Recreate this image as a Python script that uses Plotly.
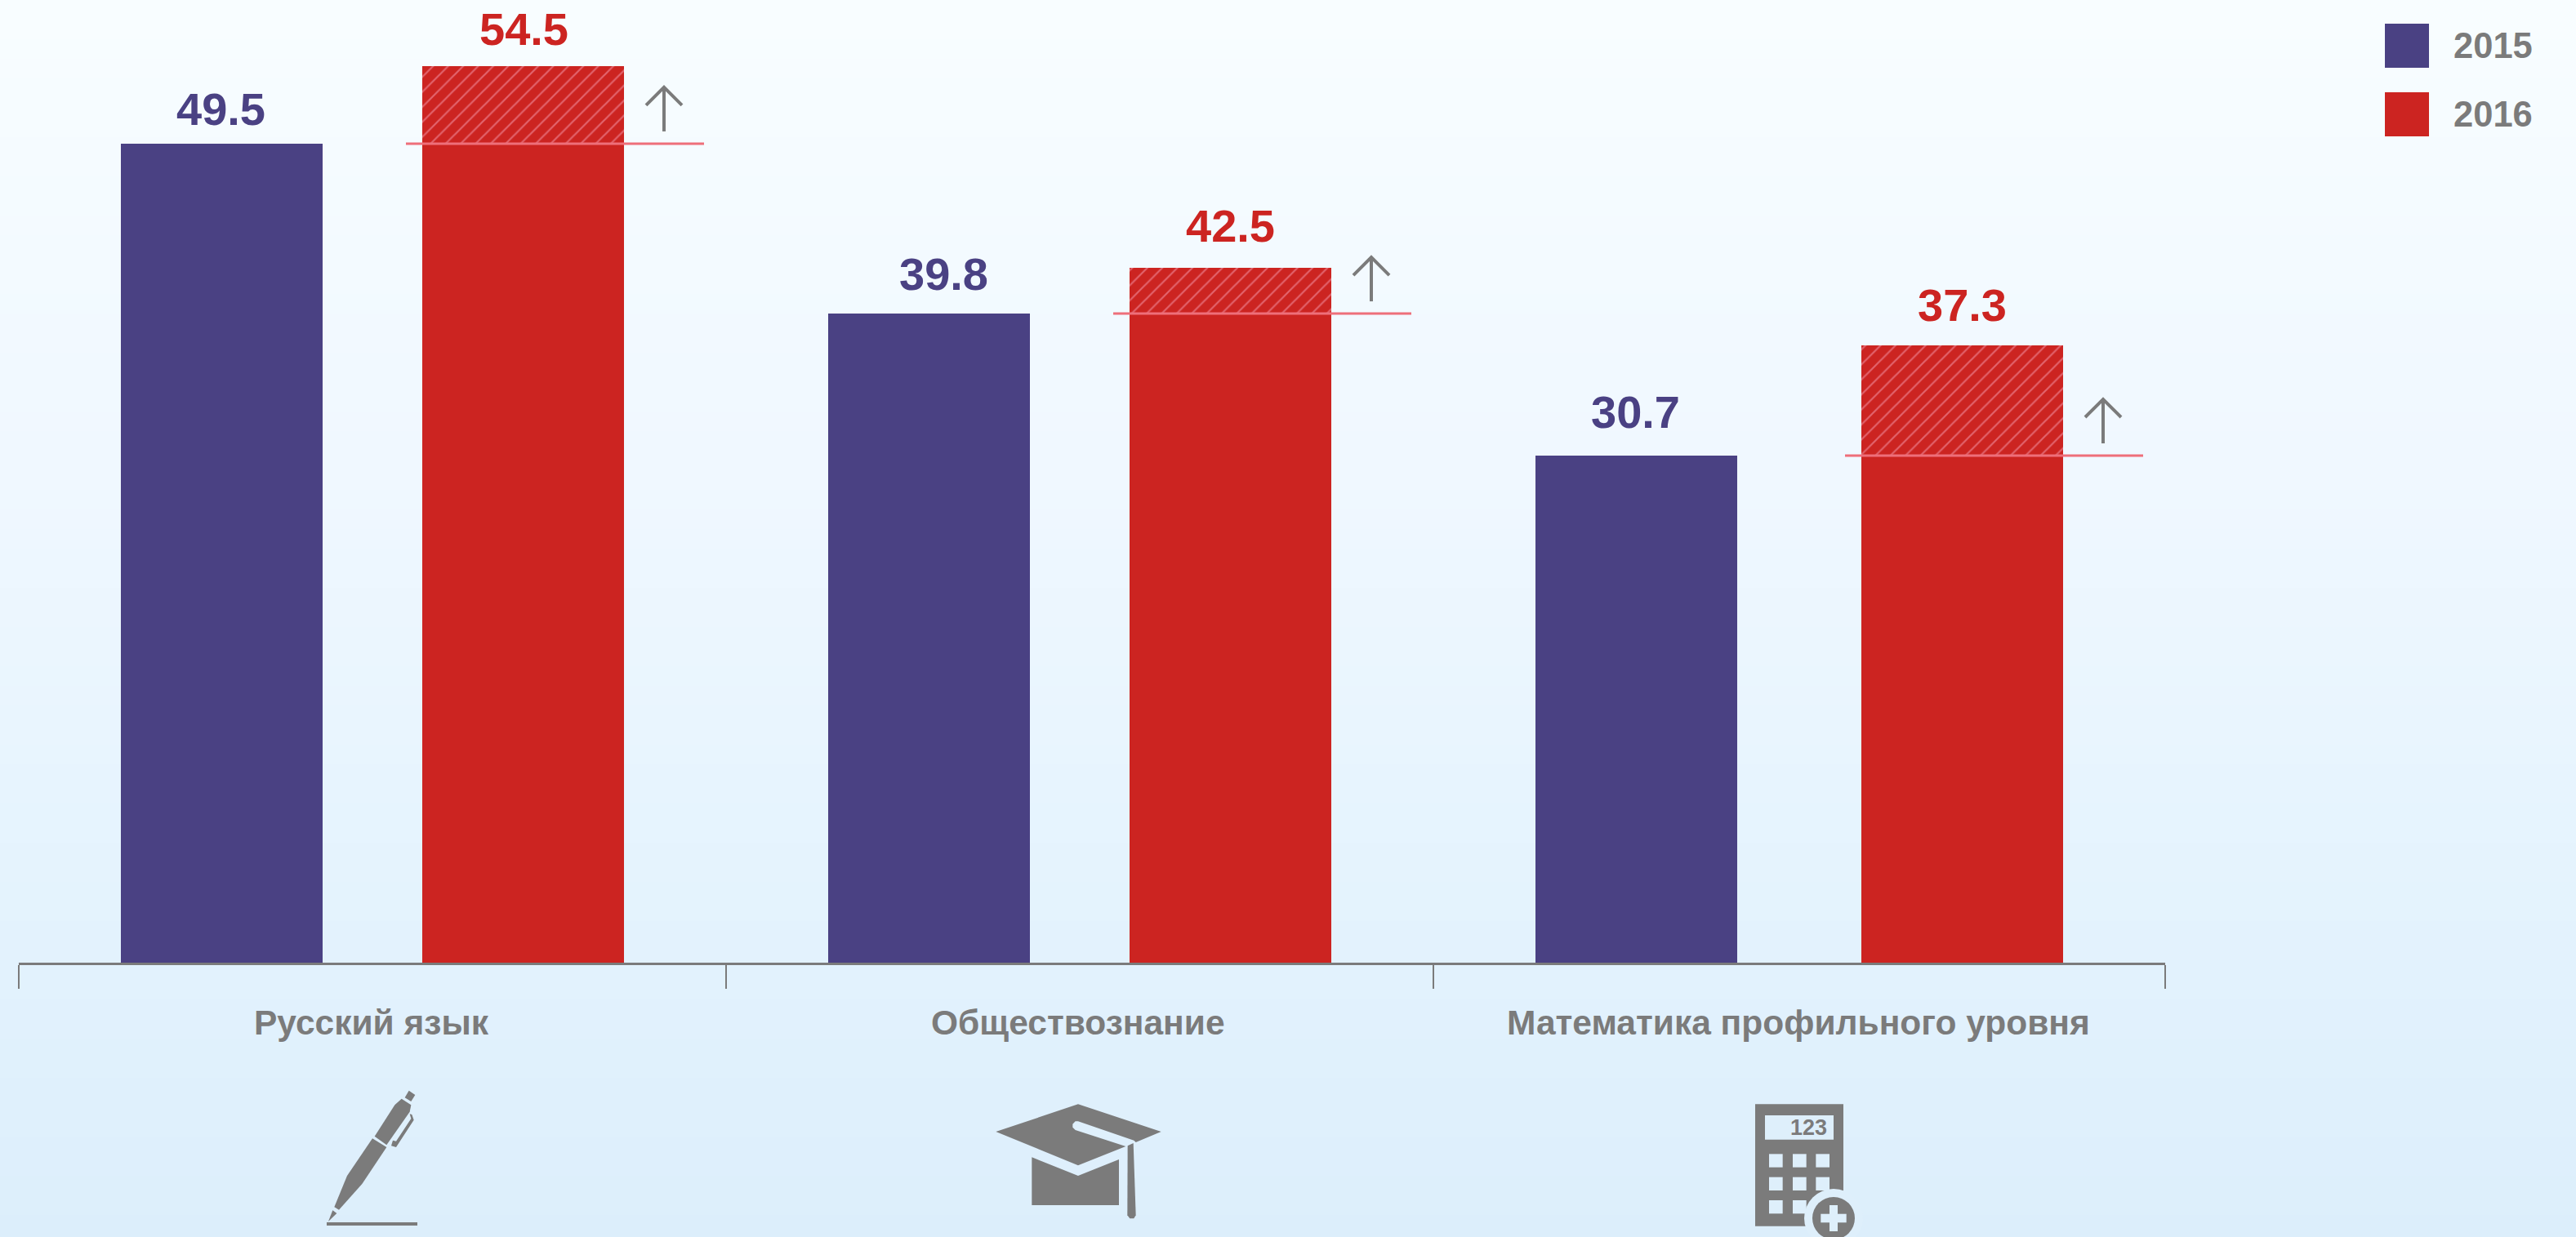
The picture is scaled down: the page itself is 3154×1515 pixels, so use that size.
import math
import plotly.graph_objects as go

# ---- data ----
categories = ["Русский язык", "Обществознание", "Математика профильного уровня"]
years = ["2015", "2016"]
labels_2015 = ["49.5", "39.8", "30.7"]
labels_2016 = ["54.5", "42.5", "37.3"]
# drawn bar heights as measured in the picture (they differ slightly from the printed labels)
heights_2015 = [49.78, 39.45, 30.82]
heights_2016 = [54.49, 42.23, 37.52]

# ---- layout constants (page pixels) ----
W, H = 3154, 1515
AX_L, AX_R, AX_Y = 23, 2651, 1179
PX_PER_UNIT = 20.15
BAR_W = 247
x_2015 = [271.5, 1137.5, 2003.5]
x_2016 = [640.5, 1506.5, 2402.5]
group_edges = [23, 889, 1755, 2651]
category_centers = [455, 1320, 2202]
label_x_2015 = [270, 1155, 2002]
label_x_2016 = [641, 1506, 2402]
label_gap_2015 = [9, 15, 20]
label_gap_2016 = [12, 18, 16]

BLUE = "#4A4183"
RED = "#CC2421"
GREY = "#7B7B7B"
PINK = "#EE6F7A"
HATCH = "#E2636C"
PALE = "#DEEFFB"
FONT = "Liberation Sans"


def px(x):
    return (x - AX_L) / (AX_R - AX_L)


def py(y):
    return (AX_Y - y) / AX_Y


def poly(points, ox, oy, fill=GREY):
    d = "M" + "L".join(f"{px(ox + a / 3):.6f},{py(oy + b / 3):.6f}" for a, b in points) + "Z"
    return dict(type="path", xref="paper", yref="paper", path=d, fillcolor=fill,
                line=dict(width=0), layer="above")


def rect(x0, y0, x1, y1, fill, layer="above"):
    return dict(type="rect", xref="paper", yref="paper", x0=px(x0), x1=px(x1), y0=py(y0), y1=py(y1),
                fillcolor=fill, line=dict(width=0), layer=layer)


def circle(cx, cy, r, fill):
    return dict(type="circle", xref="paper", yref="paper", x0=px(cx - r), x1=px(cx + r),
                y0=py(cy + r), y1=py(cy - r), fillcolor=fill, line=dict(width=0), layer="above")


# ---- gradient background ----
stops = [(0, (248, 253, 255)), (300, (243, 250, 255)), (560, (240, 248, 255)),
         (1179, (226, 242, 253)), (1515, (220, 238, 251))]


def bg_color(y):
    for (y0, c0), (y1, c1) in zip(stops, stops[1:]):
        if y <= y1:
            t = (y - y0) / (y1 - y0)
            return "rgb(%d,%d,%d)" % tuple(round(a + (b - a) * t) for a, b in zip(c0, c1))
    return "rgb(220,238,251)"


shapes = []
for y in range(0, H, 24):
    shapes.append(rect(0, y, W, H + 10, bg_color(y), layer="below"))

# ---- legend swatches ----
shapes.append(rect(2920, 29, 2974, 83, BLUE))
shapes.append(rect(2920, 113, 2974, 167, RED))

# ---- pen icon ----
ox, oy = 380, 1325
shapes += [
    rect(ox + 20, oy + 172, ox + 131, oy + 176, GREY),
    poly([(335, 62), (370, 85), (365, 110), (280, 232), (236, 200), (310, 85)], ox, oy),
    poly([(228, 208), (280, 240), (190, 375), (105, 470), (88, 460), (135, 345)], ox, oy),
    poly([(97, 483), (66, 513), (82, 472)], ox, oy),
    poly([(362, 32), (385, 48), (370, 72), (347, 58)], ox, oy),
    poly([(365, 118), (373, 120), (380, 140), (315, 240), (297, 235), (303, 215), (315, 218), (370, 135)], ox, oy),
]

# ---- mortarboard icon ----
ox, oy = 1200, 1330
shapes += [
    poly([(58, 168), (360, 67), (665, 168), (572, 207), (565, 200), (360, 130), (350, 130), (340, 140),
          (340, 152), (350, 162), (535, 222), (360, 292)], ox, oy),
    poly([(190, 262), (360, 330), (510, 270), (510, 438), (190, 438)], ox, oy),
    poly([(542, 220), (563, 210), (572, 475), (565, 487), (550, 487), (541, 475)], ox, oy),
]

# ---- calculator icon ----
ox, oy = 2130, 1340
shapes.append(rect(ox + 19, oy + 12.3, ox + 127, oy + 161.7, GREY))
shapes.append(rect(ox + 31, oy + 26, ox + 115, oy + 55.7, PALE))
for bx in (108, 195, 280):
    for by in (220, 305, 390):
        shapes.append(rect(ox + bx / 3, oy + by / 3, ox + (bx + 50) / 3, oy + (by + 49) / 3, PALE))
shapes.append(circle(ox + 115, oy + 152, 36, PALE))
shapes.append(circle(ox + 115, oy + 152, 26, GREY))
shapes.append(rect(ox + 99.3, oy + 146.7, ox + 130.7, oy + 157.3, PALE))
shapes.append(rect(ox + 110, oy + 136, ox + 120, oy + 168, PALE))

# ---- traces ----
fig = go.Figure()
fig.add_bar(x=x_2015, y=heights_2015, width=BAR_W, name=years[0], marker=dict(color=BLUE, line=dict(width=0)))
fig.add_bar(x=x_2016, y=heights_2016, width=BAR_W, name=years[1], marker=dict(color=RED, line=dict(width=0)))
fig.add_bar(
    x=x_2016,
    y=[b - a for a, b in zip(heights_2015, heights_2016)],
    base=heights_2015,
    width=BAR_W,
    showlegend=False,
    marker=dict(color=RED, line=dict(width=0),
                pattern=dict(shape="/", size=13, solidity=0.17, fgcolor=HATCH, bgcolor=RED, fgopacity=1)),
)

# reference lines at the 2015 level
lx, ly = [], []
for x, v in zip(x_2016, heights_2015):
    lx += [x - BAR_W / 2 - 20, x + BAR_W / 2 + 98, None]
    ly += [v, v, None]
fig.add_scatter(x=lx, y=ly, mode="lines", line=dict(color=PINK, width=3), showlegend=False, hoverinfo="skip")

# growth arrows
ax, ay = [], []
for x, v in zip(x_2016, heights_2015):
    c = x + BAR_W / 2 + 49
    base = v + 15 / PX_PER_UNIT
    tip = v + 69 / PX_PER_UNIT
    shoulder = v + 47 / PX_PER_UNIT
    ax += [c, c, None, c - 22, c, c + 22, None]
    ay += [base, tip, None, shoulder, tip, shoulder, None]
fig.add_scatter(x=ax, y=ay, mode="lines", line=dict(color=GREY, width=4), showlegend=False, hoverinfo="skip")

# ---- text ----
ann = []
for xs, hs, ts, gaps, col in [(label_x_2015, heights_2015, labels_2015, label_gap_2015, BLUE),
                              (label_x_2016, heights_2016, labels_2016, label_gap_2016, RED)]:
    for x, h, t, g in zip(xs, hs, ts, gaps):
        ann.append(dict(x=x, y=h, xref="x", yref="y", text=f"<b>{t}</b>", showarrow=False, yanchor="bottom",
                        xanchor="center", yshift=g, font=dict(family=FONT, size=56, color=col)))
for x, t in zip(category_centers, categories):
    ann.append(dict(x=x, y=py(1252), xref="x", yref="paper", text=f"<b>{t}</b>", showarrow=False,
                    yanchor="middle", xanchor="center", font=dict(family=FONT, size=42.5, color=GREY)))
for y, t in zip((56, 140), years):
    ann.append(dict(x=px(3002), y=py(y), xref="paper", yref="paper", text=f"<b>{t}</b>", showarrow=False,
                    xanchor="left", yanchor="middle", font=dict(family=FONT, size=43.5, color=GREY)))
ann.append(dict(x=px(2130 + 109), y=py(1340 + 41), xref="paper", yref="paper", text="<b>123</b>", showarrow=False,
                xanchor="right", yanchor="middle", font=dict(family=FONT, size=27, color=GREY)))

fig.update_layout(
    width=W, height=H, autosize=False,
    margin=dict(l=AX_L, r=W - AX_R, t=0, b=H - AX_Y, pad=0),
    barmode="overlay",
    showlegend=False,
    paper_bgcolor="rgb(248,253,255)",
    plot_bgcolor="rgba(0,0,0,0)",
    shapes=shapes,
    annotations=ann,
    xaxis=dict(range=[AX_L, AX_R], tickmode="array", tickvals=group_edges, ticktext=["", "", "", ""],
               ticks="outside", ticklen=29, tickwidth=2, tickcolor=GREY,
               showline=True, linecolor=GREY, linewidth=3, showgrid=False, zeroline=False, fixedrange=True),
    yaxis=dict(range=[0, AX_Y / PX_PER_UNIT], visible=False, showgrid=False, zeroline=False, fixedrange=True),
)
fig.write_html("out.html", config=dict(displayModeBar=False),
               post_script="document.body.style.margin='0';document.documentElement.style.overflow='hidden';")
